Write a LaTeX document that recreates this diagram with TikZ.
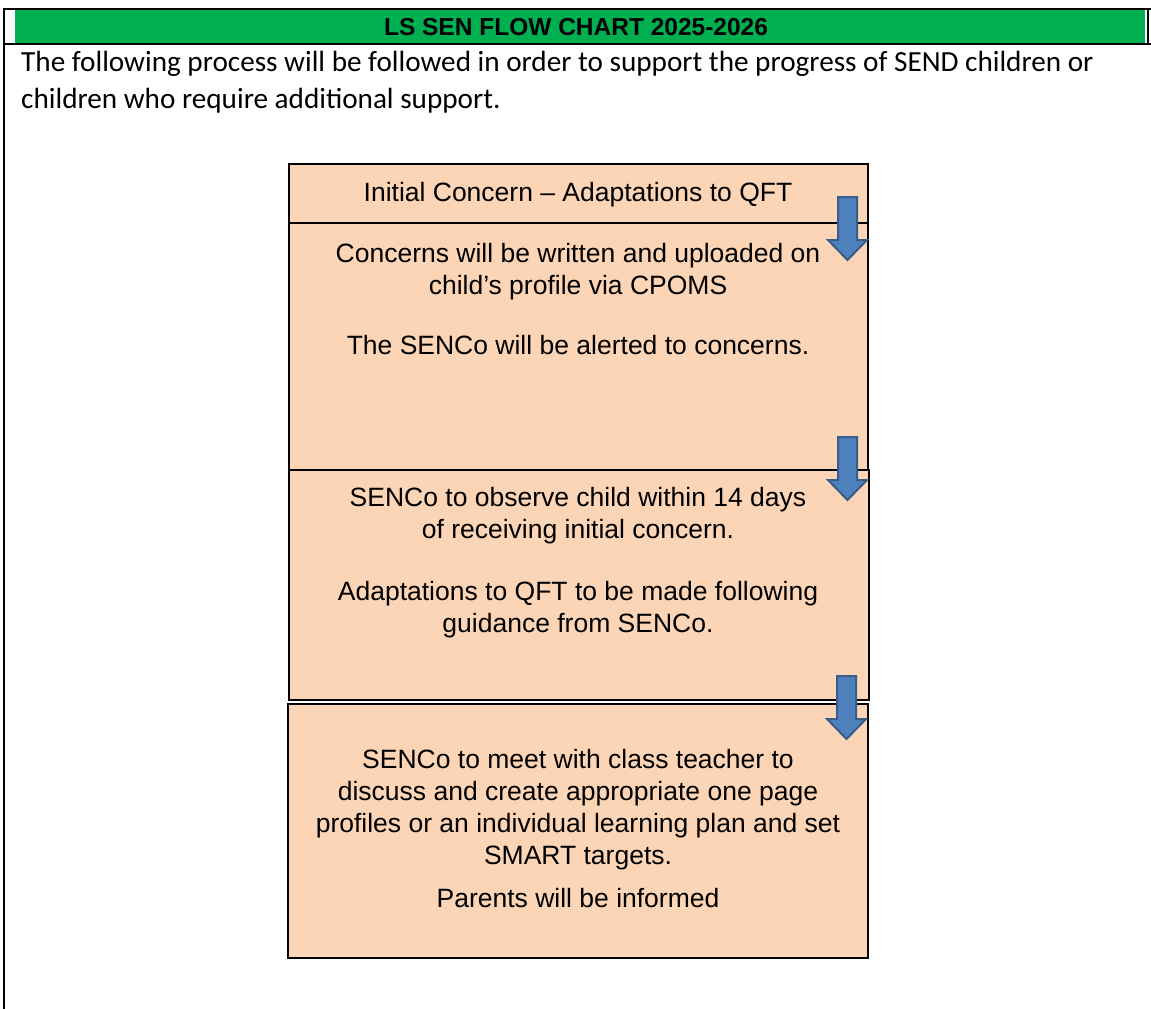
\documentclass[tikz,border=0pt]{standalone}
\usepackage{fontspec}
\setmainfont{Liberation Sans}
\newfontfamily\calibrifont{Carlito}
\definecolor{hdrgreen}{RGB}{0,176,80}
\definecolor{peach}{RGB}{251,213,181}
\definecolor{arrowfill}{RGB}{79,129,189}
\definecolor{arrowline}{RGB}{56,93,138}
\tikzset{
  frameline/.style={draw=black, line width=2.2pt},
  stepbox/.style={rectangle, draw=black, line width=1.4pt, fill=peach, inner sep=0pt},
  boxtext/.style={inner sep=0pt, anchor=base, font=\fontsize{26.5}{32}\selectfont},
  hdrtext/.style={inner sep=0pt, anchor=base, font=\fontsize{24.5}{28}\selectfont\bfseries},
  introtext/.style={inner sep=0pt, anchor=base west, font=\calibrifont\fontsize{29.2}{32}\selectfont},
  blockarrow/.style={draw=arrowline, fill=arrowfill, line width=2pt, line join=miter},
  downarrow/.pic={
    \draw[blockarrow] (-9.5,-63) -- (9.5,-63) -- (9.5,-20) -- (19.5,-20) -- (0,0)
      -- (-19.5,-20) -- (-9.5,-20) -- cycle;
  }
}
\begin{document}
\begin{tikzpicture}[x=1pt,y=-1pt]
\useasboundingbox (0,0) rectangle (1151,1009);
\fill[white] (0,0) rectangle (1151,1009);
% header
\fill[hdrgreen] (15,10) rectangle (1145,43);
\draw[frameline] (3,9) -- (1151,9);
\draw[frameline] (3,44) -- (1151,44);
\draw[frameline] (4,8) -- (4,1009);
\draw[frameline] (1148,9) -- (1148,44);
\node[hdrtext] (title) at (576,35.5) {LS SEN FLOW CHART 2025-2026};
\node[introtext] (intro1) at (21,71) {The following process will be followed in order to support the progress of SEND children or};
\node[introtext] (intro2) at (21,108) {children who require additional support.};
% boxes
\node[stepbox, minimum width=579pt, minimum height=59pt] (box1) at (578.5,193.5) {};
\node[stepbox, minimum width=579pt, minimum height=247pt] (box2) at (578.5,346.5) {};
\node[stepbox, minimum width=580pt, minimum height=230pt] (box3) at (579,585) {};
\node[stepbox, minimum width=580pt, minimum height=254pt] (box4) at (578,831) {};
% texts
\node[boxtext] (t1) at (578,201) {Initial Concern – Adaptations to QFT};
\node[boxtext] (t2a) at (578,262) {Concerns will be written and uploaded on};
\node[boxtext] (t2b) at (578,294) {child’s profile via CPOMS};
\node[boxtext] (t2c) at (578,354) {The SENCo will be alerted to concerns.};
\node[boxtext] (t3a) at (578,506) {SENCo to observe child within 14 days};
\node[boxtext] (t3b) at (578,538) {of receiving initial concern.};
\node[boxtext] (t3c) at (578,600) {Adaptations to QFT to be made following};
\node[boxtext] (t3d) at (578,632) {guidance from SENCo.};
\node[boxtext] (t4a) at (578,768) {SENCo to meet with class teacher to};
\node[boxtext] (t4b) at (578,800) {discuss and create appropriate one page};
\node[boxtext] (t4c) at (578,832) {profiles or an individual learning plan and set};
\node[boxtext] (t4d) at (578,864) {SMART targets.};
\node[boxtext] (t4e) at (578,907) {Parents will be informed};
% block arrows
\path (847.5,260) pic {downarrow};
\path (847.5,500) pic {downarrow};
\path (846.5,739) pic {downarrow};
\end{tikzpicture}
\end{document}
